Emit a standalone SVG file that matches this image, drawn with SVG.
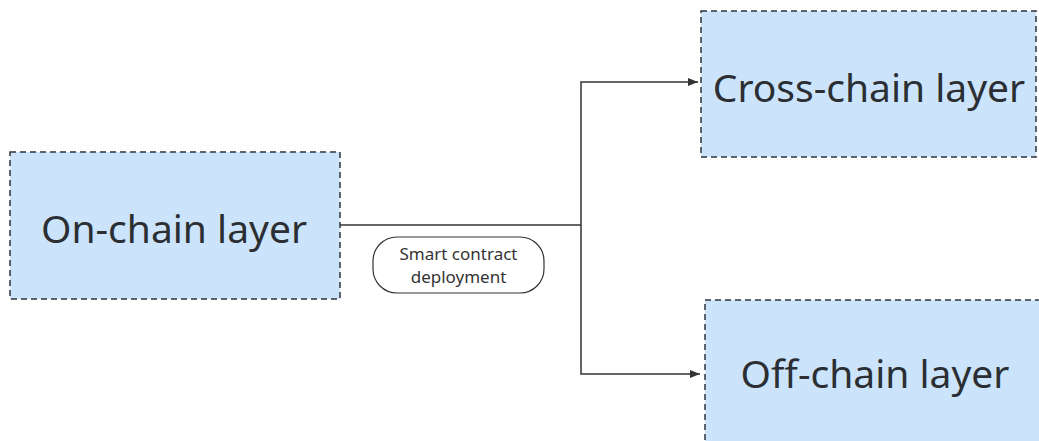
<svg xmlns="http://www.w3.org/2000/svg" width="1039" height="441" viewBox="0 0 1039 441">
  <style>
    .layer rect { fill: #cce4fb; stroke: #2f353b; stroke-width: 1.5; stroke-dasharray: 6 4; }
    .layer text { font-family: "Noto Sans", "Open Sans", sans-serif; font-size: 39px; fill: #2b2f33; text-anchor: middle; dominant-baseline: central; }
    .wire { fill: none; stroke: #333; stroke-width: 1.5; }
    .tag rect { fill: #fff; stroke: #333; stroke-width: 1.2; }
    .tag text { font-family: "Noto Sans", "Open Sans", sans-serif; font-size: 17px; fill: #333; text-anchor: middle; }
  </style>
  <defs>
    <marker id="arrow" viewBox="0 0 10 10" refX="10" refY="5" markerWidth="10" markerHeight="10" markerUnits="userSpaceOnUse" orient="auto">
      <path d="M0,1 L10,5 L0,9 Z" fill="#333"/>
    </marker>
  </defs>

  <g id="connectors">
    <path class="wire" d="M340,225 H581"/>
    <path class="wire" d="M581,225 V82 H698" marker-end="url(#arrow)"/>
    <path class="wire" d="M581,225 V374 H700" marker-end="url(#arrow)"/>
  </g>

  <g id="on-chain" class="layer">
    <rect x="10" y="152" width="330" height="147"/>
    <text x="174" y="227">On-chain layer</text>
  </g>

  <g id="cross-chain" class="layer">
    <rect x="701" y="11" width="335" height="146"/>
    <text x="869" y="86">Cross-chain layer</text>
  </g>

  <g id="off-chain" class="layer">
    <rect x="705" y="300" width="345" height="160"/>
    <text x="875" y="372">Off-chain layer</text>
  </g>

  <g id="deploy-label" class="tag">
    <rect x="373" y="237" width="171" height="56" rx="24" ry="24"/>
    <text x="458.5" y="260">Smart contract</text>
    <text x="458.5" y="283">deployment</text>
  </g>
</svg>
